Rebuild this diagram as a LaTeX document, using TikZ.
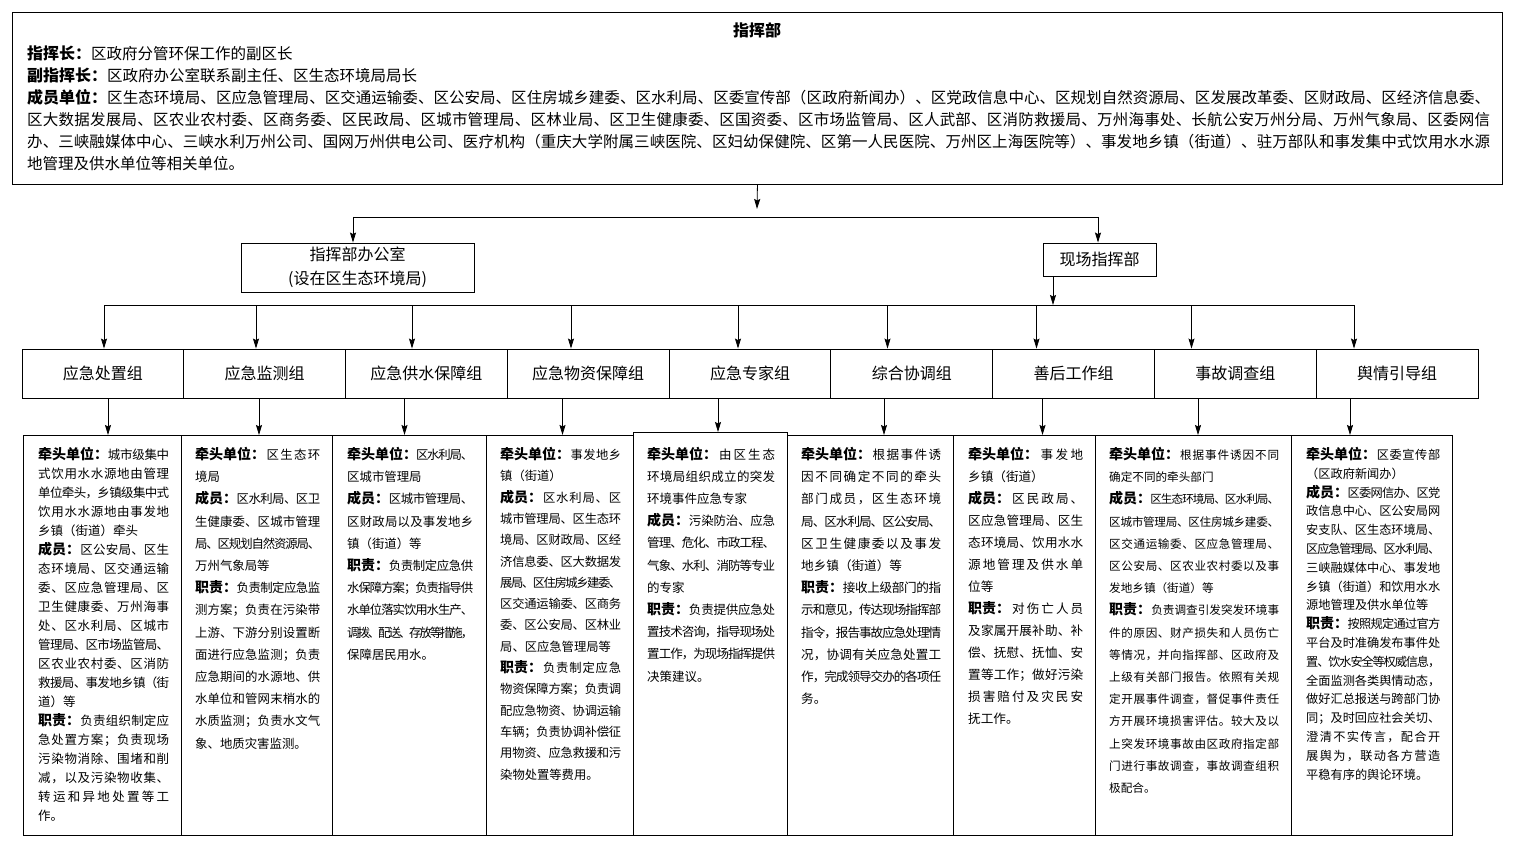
\documentclass[tikz,border=0pt]{standalone}
\usepackage{fontspec}
\setmainfont{Noto Sans CJK SC}
\usetikzlibrary{arrows.meta}
\newlength\cw
\newskip\spg \spg=0pt plus 1fil minus 1fil
\def\spreadnext#1{\ifx\relax#1\else\hskip\spg#1\expandafter\spreadnext\fi}
\def\spreadfirst#1{#1\spreadnext}
\newcommand\jl[1]{\hbox to \cw{\spreadfirst#1\relax}}
\newcommand\jlb[2]{\hbox to \cw{{\lbfont#1}\spreadnext#2\relax}}
\newcommand\nline[1]{\hbox{#1}}
\newcommand\nlineb[2]{\hbox{{\lbfont#1}#2}}
\newcommand\colfmt[4]{\setlength\cw{#1pt}\fontsize{#2}{#3}\selectfont\def\lbfont{\fontsize{#4}{#3}\selectfont\bfseries}}
\begin{document}
\begin{tikzpicture}[x=1pt,y=-1pt,
  box/.style={draw,line width=0.9pt,inner sep=0pt},
  arr/.style={line width=0.8pt,-{Stealth[length=10pt,width=6pt,inset=1.5pt]}},
  ln/.style={line width=0.8pt},
  txt/.style={anchor=base west,inner sep=0pt},
  gfont/.style={font=\fontsize{16}{24}\selectfont}]
\fill[white] (0,0) rectangle (1514,850);
\useasboundingbox (0,0) rectangle (1514,850);
% top box
\node[box,anchor=north west,minimum width=1490pt,minimum height=172pt] (top) at (12,12) {};
\node[font=\fontsize{16}{16}\selectfont\bfseries,inner sep=0pt] (title) at (757,30) {指挥部};
\node[txt] (lead) at (27,60) {\colfmt{1463}{15.5}{22}{16}\vtop{%
\nlineb{指挥长：}{区政府分管环保工作的副区长}
\nlineb{副指挥长：}{区政府办公室联系副主任、区生态环境局局长}
\jlb{成员单位：}{区生态环境局、区应急管理局、区交通运输委、区公安局、区住房城乡建委、区水利局、区委宣传部（区政府新闻办）、区党政信息中心、区规划自然资源局、区发展改革委、区财政局、区经济信息委、}
\jl{区大数据发展局、区农业农村委、区商务委、区民政局、区城市管理局、区林业局、区卫生健康委、区国资委、区市场监管局、区人武部、区消防救援局、万州海事处、长航公安万州分局、万州气象局、区委网信}
\jl{办、三峡融媒体中心、三峡水利万州公司、国网万州供电公司、医疗机构（重庆大学附属三峡医院、区妇幼保健院、区第一人民医院、万州区上海医院等）、事发地乡镇（街道）、驻万部队和事发集中式饮用水水源}
\nline{地管理及供水单位等相关单位。}}};
% second level
\node[box,gfont,minimum width=233pt,minimum height=49pt,align=center] (office) at (357.5,267.5) {指挥部办公室\\(设在区生态环境局)};
\node[box,gfont,minimum width=113pt,minimum height=33pt] (field) at (1099.5,259.5) {现场指挥部};
% group row
\node[box,gfont,minimum width=161.78pt,minimum height=49pt] (g1) at (102.89,373.5) {应急处置组};
\node[box,gfont,minimum width=161.78pt,minimum height=49pt] (g2) at (264.67,373.5) {应急监测组};
\node[box,gfont,minimum width=161.78pt,minimum height=49pt] (g3) at (426.45,373.5) {应急供水保障组};
\node[box,gfont,minimum width=161.78pt,minimum height=49pt] (g4) at (588.23,373.5) {应急物资保障组};
\node[box,gfont,minimum width=161.78pt,minimum height=49pt] (g5) at (750.00,373.5) {应急专家组};
\node[box,gfont,minimum width=161.78pt,minimum height=49pt] (g6) at (911.78,373.5) {综合协调组};
\node[box,gfont,minimum width=161.78pt,minimum height=49pt] (g7) at (1073.56,373.5) {善后工作组};
\node[box,gfont,minimum width=161.78pt,minimum height=49pt] (g8) at (1235.34,373.5) {事故调查组};
\node[box,gfont,minimum width=161.78pt,minimum height=49pt] (g9) at (1397.12,373.5) {舆情引导组};
% detail boxes
\node[box,anchor=north west,minimum width=158pt,minimum height=400pt] (d1) at (23,435) {};
\node[box,anchor=north west,minimum width=151pt,minimum height=400pt] (d2) at (181,435) {};
\node[box,anchor=north west,minimum width=154pt,minimum height=400pt] (d3) at (332,435) {};
\node[box,anchor=north west,minimum width=147pt,minimum height=400pt] (d4) at (486,435) {};
\node[box,anchor=north west,minimum width=154pt,minimum height=403pt] (d5) at (633,432) {};
\node[box,anchor=north west,minimum width=166pt,minimum height=400pt] (d6) at (787,435) {};
\node[box,anchor=north west,minimum width=141.5pt,minimum height=400pt] (d7) at (953,435) {};
\node[box,anchor=north west,minimum width=196.5pt,minimum height=400pt] (d8) at (1094.5,435) {};
\node[box,anchor=north west,minimum width=161pt,minimum height=400pt] (d9) at (1291,435) {};
% connectors
\coordinate (t1) at (757,209);
\draw[arr] (top.south) -- (t1);
\coordinate (h1) at (353,217);
\coordinate (h2) at (1098,217);
\draw[ln] (h1) -- (h2);
\draw[arr] (h1) -- (office.north -| h1);
\draw[arr] (h2) -- (field.north -| h2);
\coordinate (f1) at (1053,305);
\draw[arr] (field.south -| f1) -- (f1);
\coordinate (bl) at (104,305);
\coordinate (br) at (1354,305);
\draw[ln] (bl) -- (br);
\foreach \i/\x in {1/104,2/256,3/412,4/571,5/738,6/887.5,7/1036.5,8/1191.5,9/1354}{
  \coordinate (b\i) at (\x,305);
  \draw[arr] (b\i) -- (g\i.north -| b\i);
}
\foreach \i/\x in {1/108,2/259,3/404.5,4/562.5,5/718,6/884,7/1042.5,8/1198,9/1350}{
  \coordinate (p\i) at (\x,398);
  \draw[arr] (g\i.south -| p\i) -- (d\i.north -| p\i);
}
% column texts
\node[txt] (c1) at (38,459.5) {\colfmt{131}{12.5}{19}{14}\vtop{%
\jlb{牵头单位：}{城市级集中}
\jl{式饮用水水源地由管理}
\jl{单位牵头，乡镇级集中式}
\jl{饮用水水源地由事发地}
\nline{乡镇（街道）牵头}
\jlb{成员：}{区公安局、区生}
\jl{态环境局、区交通运输}
\jl{委、区应急管理局、区}
\jl{卫生健康委、万州海事}
\jl{处、区水利局、区城市}
\jl{管理局、区市场监管局、}
\jl{区农业农村委、区消防}
\jl{救援局、事发地乡镇（街}
\nline{道）等}
\jlb{职责：}{负责组织制定应}
\jl{急处置方案；负责现场}
\jl{污染物消除、围堵和削}
\jl{减，以及污染物收集、}
\jl{转运和异地处置等工}
\nline{作。}}};
\node[txt] (c2) at (195,459.5) {\colfmt{125}{12.4}{22.2}{14}\vtop{%
\jlb{牵头单位：}{区生态环}
\nline{境局}
\jlb{成员：}{区水利局、区卫}
\jl{生健康委、区城市管理}
\jl{局、区规划自然资源局、}
\nline{万州气象局等}
\jlb{职责：}{负责制定应急监}
\jl{测方案；负责在污染带}
\jl{上游、下游分别设置断}
\jl{面进行应急监测；负责}
\jl{应急期间的水源地、供}
\jl{水单位和管网末梢水的}
\jl{水质监测；负责水文气}
\nline{象、地质灾害监测。}}};
\node[txt] (c3) at (347,459.5) {\colfmt{126}{12.4}{22.2}{14}\vtop{%
\jlb{牵头单位：}{区水利局、}
\nline{区城市管理局}
\jlb{成员：}{区城市管理局、}
\jl{区财政局以及事发地乡}
\nline{镇（街道）等}
\jlb{职责：}{负责制定应急供}
\jl{水保障方案；负责指导供}
\jl{水单位落实饮用水生产、}
\jl{调拨、配送、存放等措施，}
\nline{保障居民用水。}}};
\node[txt] (c4) at (500,459.5) {\colfmt{121}{12.3}{21.3}{14}\vtop{%
\jlb{牵头单位：}{事发地乡}
\nline{镇（街道）}
\jlb{成员：}{区水利局、区}
\jl{城市管理局、区生态环}
\jl{境局、区财政局、区经}
\jl{济信息委、区大数据发}
\jl{展局、区住房城乡建委、}
\jl{区交通运输委、区商务}
\jl{委、区公安局、区林业}
\nline{局、区应急管理局等}
\jlb{职责：}{负责制定应急}
\jl{物资保障方案；负责调}
\jl{配应急物资、协调运输}
\jl{车辆；负责协调补偿征}
\jl{用物资、应急救援和污}
\nline{染物处置等费用。}}};
\node[txt] (c5) at (647,459) {\colfmt{128}{12.5}{22.2}{14}\vtop{%
\jlb{牵头单位：}{由区生态}
\jl{环境局组织成立的突发}
\nline{环境事件应急专家}
\jlb{成员：}{污染防治、应急}
\jl{管理、危化、市政工程、}
\jl{气象、水利、消防等专业}
\nline{的专家}
\jlb{职责：}{负责提供应急处}
\jl{置技术咨询，指导现场处}
\jl{置工作，为现场指挥提供}
\nline{决策建议。}}};
\node[txt] (c6) at (801,459.5) {\colfmt{140}{12.6}{22.2}{14}\vtop{%
\jlb{牵头单位：}{根据事件诱}
\jl{因不同确定不同的牵头}
\jl{部门成员，区生态环境}
\jl{局、区水利局、区公安局、}
\jl{区卫生健康委以及事发}
\nline{地乡镇（街道）等}
\jlb{职责：}{接收上级部门的指}
\jl{示和意见，传达现场指挥部}
\jl{指令，报告事故应急处理情}
\jl{况，协调有关应急处置工}
\jl{作，完成领导交办的各项任}
\nline{务。}}};
\node[txt] (c7) at (968,459.5) {\colfmt{115}{12.6}{22}{14}\vtop{%
\jlb{牵头单位：}{事发地}
\nline{乡镇（街道）}
\jlb{成员：}{区民政局、}
\jl{区应急管理局、区生}
\jl{态环境局、饮用水水}
\jl{源地管理及供水单}
\nline{位等}
\jlb{职责：}{对伤亡人员}
\jl{及家属开展补助、补}
\jl{偿、抚慰、抚恤、安}
\jl{置等工作；做好污染}
\jl{损害赔付及灾民安}
\nline{抚工作。}}};
\node[txt] (c8) at (1109,459.5) {\colfmt{170}{11.6}{22.2}{14}\vtop{%
\jlb{牵头单位：}{根据事件诱因不同}
\nline{确定不同的牵头部门}
\jlb{成员：}{区生态环境局、区水利局、}
\jl{区城市管理局、区住房城乡建委、}
\jl{区交通运输委、区应急管理局、}
\jl{区公安局、区农业农村委以及事}
\nline{发地乡镇（街道）等}
\jlb{职责：}{负责调查引发突发环境事}
\jl{件的原因、财产损失和人员伤亡}
\jl{等情况，并向指挥部、区政府及}
\jl{上级有关部门报告。依照有关规}
\jl{定开展事件调查，督促事件责任}
\jl{方开展环境损害评估。较大及以}
\jl{上突发环境事故由区政府指定部}
\jl{门进行事故调查，事故调查组积}
\nline{极配合。}}};
\node[txt] (c9) at (1306,459.5) {\colfmt{134}{12.2}{18.8}{14}\vtop{%
\jlb{牵头单位：}{区委宣传部}
\nline{（区政府新闻办）}
\jlb{成员：}{区委网信办、区党}
\jl{政信息中心、区公安局网}
\jl{安支队、区生态环境局、}
\jl{区应急管理局、区水利局、}
\jl{三峡融媒体中心、事发地}
\jl{乡镇（街道）和饮用水水}
\nline{源地管理及供水单位等}
\jlb{职责：}{按照规定通过官方}
\jl{平台及时准确发布事件处}
\jl{置、饮水安全等权威信息，}
\jl{全面监测各类舆情动态，}
\jl{做好汇总报送与跨部门协}
\jl{同；及时回应社会关切、}
\jl{澄清不实传言，配合开}
\jl{展舆为，联动各方营造}
\nline{平稳有序的舆论环境。}}};
\end{tikzpicture}
\end{document}
